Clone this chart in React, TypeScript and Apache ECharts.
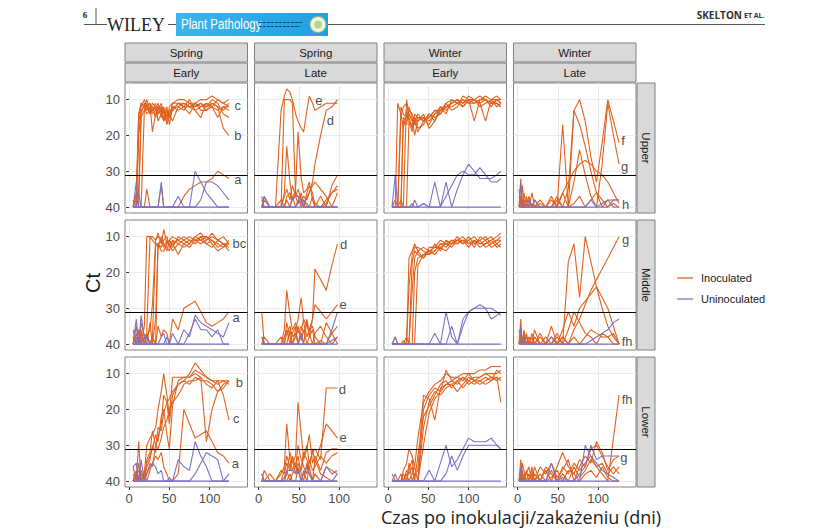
import { useEffect, useRef } from "react";
import * as echarts from "echarts";

// ---- palette & fonts ----
const ORANGE = "#e2611c";
const PURPLE = "#7b72c6";
const SANS = "'Liberation Sans', Arial, sans-serif";

// ---- facet labels & scales ----
const seasons = ["Spring", "Spring", "Winter", "Winter"];
const timings = ["Early", "Late", "Early", "Late"];
const positions = ["Upper", "Middle", "Lower"];
const xTicks = [0, 50, 100];
const yTicks = [10, 20, 30, 40];
const threshold = 31;
const legendItems = ["Inoculated", "Uninoculated"];

// ---- sampling days per season/timing ----
const daysSpringEarly = [5, 9, 12, 15, 19, 22, 26, 29, 33, 36, 40, 43, 47, 50, 54, 61, 68, 75, 82, 89, 96, 103, 110, 117, 124];
const daysSpringLate = [4, 7, 14, 21, 28, 32, 35, 39, 42, 46, 49, 53, 56, 60, 63, 67, 70, 77, 84, 91, 98];
const daysWinterEarly = [5, 9, 12, 16, 19, 23, 26, 30, 33, 37, 44, 51, 58, 65, 72, 79, 86, 93, 100, 107, 114, 121, 128, 135, 140];
const daysWinterLate = [2, 4, 6, 8, 11, 14, 18, 21, 28, 35, 42, 49, 56, 63, 70, 77, 84, 91, 98, 105, 112, 119, 126];

// ---- Upper ----
const upperSpringEarlyInoc = [
  [40, 40, 17, 11, 12, 10, 13, 11, 12, 14, 12, 16, 13, 15, 11, 10, 10, 11, 11, 10, 10, 9, 10, 11, 10],
  [40, 38, 14, 12, 10, 12, 11, 14, 13, 12, 15, 13, 16, 12, 11, 11, 12, 10, 13, 12, 11, 12, 10, 11, 12],
  [40, 40, 40, 14, 11, 13, 12, 12, 15, 13, 11, 14, 12, 17, 12, 12, 13, 11, 12, 11, 13, 11, 12, 13, 11],
  [38, 40, 20, 13, 12, 11, 14, 13, 11, 16, 14, 12, 15, 13, 13, 11, 12, 14, 11, 12, 12, 10, 11, 14, 15],
  [40, 40, 35, 15, 13, 12, 11, 19, 14, 12, 13, 15, 13, 14, 16, 12, 11, 12, 13, 15, 11, 12, 13, 12, 13],
  [40, 40, 40, 40, 13, 12, 14, 12, 13, 11, 14, 16, 14, 15, 13, 11, 11, 12, 12, 11, 12, 11, 12, 18, 20],
  [40, 36, 14, 11, 12, 14, 13, 13, 12, 14, 12, 13, 17, 14, 12, 13, 12, 12, 11, 13, 13, 12, 15, 12, 12],
  [40, 37, 40, 40, 40, 35, 40, 40, 40, 40, 34, 40, 40, 40, 40, 40, 37, 35, 34, 33, 33, 32, 30, 31, 32],
];
const upperSpringEarlyUninoc = [
  [40, 33, 40, 40, 40, 40, 40, 40, 40, 40, 33, 40, 40, 40, 40, 37, 40, 40, 30, 33, 36, 38, 40, 40, 40],
  [40, 40, 40, 40, 40, 40, 40, 40, 40, 40, 40, 40, 40, 40, 40, 40, 40, 40, 40, 38, 33, 33, 34, 36, 38],
  [40, 40, 36, 40, 40, 40, 40, 40, 40, 40, 40, 40, 40, 40, 40, 40, 40, 40, 40, 40, 40, 40, 40, 40, 40],
];
const upperSpringLateInoc = [
  [40, 37, 40, 40, 13, 9, 7, 8, 10, 14, 16, 18, 19, 13, 9, 11, 13, 12, 11, 11, 11],
  [38, 40, 40, 40, 40, 10, 10, 10, 11, 37, 35, 38, 40, 37, 36, 34, 33, 35, 37, 40, 36],
  [40, 40, 40, 40, 40, 40, 38, 40, 37, 40, 39, 38, 37, 38, 36, 33, 28, 20, 13, 12, 10],
  [40, 40, 40, 40, 40, 36, 23, 33, 38, 36, 37, 40, 38, 40, 40, 37, 39, 40, 38, 36, 34],
  [40, 40, 40, 40, 38, 40, 37, 36, 38, 35, 19, 32, 36, 35, 33, 38, 40, 37, 40, 34, 31],
  [40, 38, 40, 40, 40, 37, 35, 38, 34, 37, 39, 36, 40, 36, 34, 36, 40, 40, 39, 36, 35],
];
const upperSpringLateUninoc = [
  [37, 40, 40, 40, 40, 40, 40, 40, 38, 37, 37, 38, 40, 40, 40, 40, 40, 40, 40, 40, 40],
  [40, 37, 40, 40, 40, 40, 40, 40, 40, 40, 38, 39, 38, 39, 40, 40, 40, 40, 40, 40, 40],
  [40, 40, 40, 40, 40, 40, 40, 40, 40, 40, 40, 40, 40, 40, 40, 40, 40, 40, 40, 40, 40],
];
const upperWinterEarlyInoc = [
  [40, 40, 11, 14, 18, 13, 16, 17, 15, 16, 15, 17, 14, 13, 12, 11, 10, 11, 10, 10, 9, 10, 11, 10, 10],
  [40, 40, 40, 15, 12, 11, 15, 18, 14, 15, 16, 14, 15, 14, 11, 13, 12, 9, 10, 11, 10, 9, 10, 10, 11],
  [40, 40, 40, 40, 16, 17, 12, 15, 20, 16, 14, 18, 16, 12, 14, 10, 11, 12, 10, 16, 10, 10, 11, 11, 12],
  [40, 40, 40, 38, 40, 10, 14, 16, 15, 18, 17, 14, 16, 13, 12, 11, 10, 11, 9, 10, 11, 16, 10, 9, 10],
  [40, 38, 40, 40, 40, 40, 16, 19, 16, 14, 16, 15, 13, 14, 12, 12, 11, 10, 11, 10, 11, 10, 11, 11, 12],
  [40, 40, 40, 40, 15, 16, 14, 16, 17, 15, 15, 16, 14, 12, 13, 11, 10, 12, 10, 10, 12, 11, 10, 12, 11],
  [40, 40, 40, 12, 14, 15, 13, 14, 16, 19, 16, 15, 13, 13, 11, 10, 11, 10, 11, 11, 10, 10, 12, 10, 11],
];
const upperWinterEarlyUninoc = [
  [40, 31, 40, 40, 40, 40, 40, 40, 38, 40, 39, 40, 33, 40, 33, 40, 35, 31, 28, 30, 32, 32, 32, 31, 30],
  [40, 40, 40, 40, 40, 40, 40, 40, 40, 40, 40, 40, 40, 40, 37, 34, 31, 30, 31, 31, 29, 31, 33, 33, 32],
  [40, 40, 40, 40, 40, 40, 40, 39, 40, 40, 39, 40, 40, 40, 40, 40, 40, 40, 40, 40, 40, 40, 40, 40, 40],
];
const upperWinterLateInoc = [
  [35, 40, 38, 40, 37, 40, 40, 38, 40, 40, 40, 40, 36, 40, 13, 10, 16, 26, 33, 22, 10, 16, 22],
  [40, 32, 40, 36, 40, 38, 40, 40, 40, 40, 38, 40, 17, 40, 33, 24, 31, 37, 40, 28, 11, 20, 28],
  [40, 38, 34, 40, 40, 37, 40, 40, 40, 40, 40, 38, 40, 35, 13, 17, 23, 30, 36, 40, 38, 40, 40],
  [40, 37, 40, 38, 40, 40, 39, 40, 38, 40, 37, 40, 36, 33, 30, 28, 27, 28, 30, 31, 33, 36, 39],
  [37, 40, 40, 40, 38, 40, 36, 40, 39, 40, 40, 37, 40, 40, 39, 37, 40, 38, 36, 38, 40, 38, 38],
];
const upperWinterLateUninoc = [
  [40, 33, 40, 40, 40, 38, 40, 38, 40, 40, 40, 40, 40, 40, 40, 40, 40, 40, 40, 39, 38, 38, 38],
  [40, 40, 40, 40, 40, 40, 40, 40, 40, 40, 40, 40, 40, 40, 40, 40, 40, 38, 40, 40, 40, 39, 40],
];

// ---- Middle ----
const middleSpringEarlyInoc = [
  [36, 40, 38, 40, 35, 10, 10, 10, 11, 9, 12, 8, 12, 11, 13, 10, 11, 12, 10, 9, 11, 10, 11, 12, 12],
  [40, 37, 40, 34, 38, 37, 10, 11, 12, 13, 10, 12, 14, 11, 12, 11, 10, 11, 12, 10, 12, 11, 13, 12, 13],
  [38, 40, 36, 40, 40, 38, 36, 29, 11, 10, 11, 13, 11, 12, 14, 12, 11, 10, 11, 11, 10, 12, 14, 13, 11],
  [40, 35, 40, 38, 40, 37, 40, 39, 12, 12, 13, 11, 10, 13, 12, 15, 12, 11, 11, 12, 11, 9, 11, 12, 14],
  [40, 40, 40, 37, 40, 40, 34, 40, 33, 12, 11, 12, 13, 14, 11, 12, 13, 12, 10, 11, 12, 13, 11, 10, 12],
  [38, 40, 40, 40, 38, 40, 40, 38, 40, 12, 14, 14, 12, 11, 10, 11, 12, 13, 11, 10, 10, 11, 12, 13, 12],
  [40, 38, 40, 36, 40, 37, 40, 38, 40, 35, 38, 36, 37, 40, 33, 36, 30, 29, 28, 31, 34, 35, 34, 33, 31],
];
const middleSpringEarlyUninoc = [
  [40, 33, 40, 32, 38, 40, 40, 40, 40, 40, 38, 37, 40, 40, 37, 40, 36, 38, 32, 34, 35, 36, 37, 38, 34],
  [40, 40, 36, 40, 40, 38, 40, 40, 40, 40, 40, 40, 38, 40, 40, 40, 40, 37, 33, 36, 36, 38, 36, 40, 40],
  [40, 40, 40, 40, 40, 40, 40, 40, 40, 40, 40, 40, 40, 40, 40, 40, 40, 40, 40, 40, 40, 40, 40, 40, 40],
];
const middleSpringLateInoc = [
  [31, 40, 40, 40, 40, 38, 36, 40, 37, 35, 40, 36, 33, 35, 36, 33, 19, 22, 25, 18, 12],
  [38, 40, 40, 40, 40, 36, 25, 32, 36, 34, 37, 35, 37, 34, 38, 33, 29, 31, 33, 31, 29],
  [40, 40, 40, 40, 40, 40, 34, 38, 40, 36, 33, 27, 34, 38, 36, 35, 38, 40, 34, 37, 35],
  [40, 38, 40, 40, 38, 40, 37, 35, 38, 37, 40, 37, 40, 33, 37, 40, 37, 35, 38, 40, 38],
  [40, 40, 40, 40, 40, 40, 40, 36, 40, 38, 35, 39, 36, 40, 38, 36, 40, 39, 40, 37, 40],
];
const middleSpringLateUninoc = [
  [38, 40, 40, 40, 40, 40, 40, 40, 40, 40, 40, 37, 40, 40, 40, 40, 40, 40, 40, 39, 38],
  [40, 40, 40, 40, 40, 40, 40, 40, 40, 40, 40, 40, 40, 40, 40, 40, 40, 40, 40, 36, 31],
  [40, 40, 40, 40, 40, 40, 40, 40, 40, 40, 40, 40, 40, 40, 40, 40, 40, 40, 40, 40, 40],
];
const middleWinterEarlyInoc = [
  [40, 38, 40, 40, 40, 40, 16, 14, 12, 14, 13, 14, 13, 11, 12, 13, 11, 10, 12, 11, 12, 11, 10, 12, 11],
  [40, 40, 40, 40, 40, 38, 40, 17, 14, 15, 16, 14, 15, 13, 14, 12, 12, 11, 13, 11, 13, 12, 11, 13, 12],
  [40, 40, 40, 40, 40, 40, 40, 40, 20, 16, 15, 15, 14, 12, 13, 11, 11, 12, 10, 12, 11, 10, 12, 11, 10],
  [40, 40, 40, 40, 39, 40, 24, 15, 13, 13, 14, 15, 12, 14, 11, 12, 11, 11, 11, 10, 12, 12, 11, 10, 9],
  [40, 40, 40, 40, 40, 40, 40, 25, 16, 14, 16, 13, 13, 13, 12, 12, 10, 12, 11, 13, 10, 11, 13, 12, 13],
  [40, 40, 40, 40, 40, 40, 40, 40, 40, 18, 15, 14, 14, 12, 12, 11, 12, 11, 12, 12, 11, 13, 12, 11, 11],
];
const middleWinterEarlyUninoc = [
  [40, 38, 40, 40, 40, 40, 40, 40, 40, 40, 40, 40, 37, 40, 31, 38, 40, 33, 31, 30, 29, 30, 30, 31, 32],
  [40, 40, 40, 40, 40, 40, 40, 40, 40, 40, 40, 40, 40, 40, 40, 35, 40, 35, 31, 30, 30, 30, 33, 32, 31],
  [40, 40, 40, 40, 40, 40, 40, 40, 40, 40, 40, 40, 40, 40, 40, 40, 40, 40, 40, 40, 40, 40, 40, 40, 40],
];
const middleWinterLateInoc = [
  [40, 33, 40, 37, 40, 38, 40, 36, 40, 38, 40, 37, 40, 17, 12, 27, 10, 17, 24, 30, 35, 38, 40],
  [36, 40, 38, 40, 37, 40, 38, 40, 38, 40, 35, 40, 38, 40, 36, 33, 29, 25, 22, 19, 16, 13, 10],
  [40, 37, 40, 38, 40, 40, 37, 40, 37, 40, 38, 40, 36, 31, 35, 30, 28, 26, 24, 27, 30, 35, 40],
  [38, 40, 40, 40, 38, 40, 40, 38, 40, 40, 40, 38, 40, 36, 31, 34, 37, 38, 40, 37, 38, 40, 40],
  [40, 38, 40, 36, 40, 39, 40, 40, 40, 40, 40, 40, 38, 40, 38, 40, 38, 36, 37, 38, 38, 37, 40],
];
const middleWinterLateUninoc = [
  [40, 35, 40, 40, 40, 40, 40, 40, 40, 40, 38, 40, 40, 40, 40, 40, 40, 39, 38, 37, 36, 34, 33],
  [40, 40, 40, 38, 40, 40, 40, 40, 40, 40, 40, 40, 40, 40, 40, 40, 40, 40, 40, 40, 40, 40, 40],
];

// ---- Lower ----
const lowerSpringEarlyInoc = [
  [36, 40, 29, 40, 38, 30, 28, 27, 25, 20, 15, 10, 16, 22, 11, 11, 11, 11, 9, 10, 11, 12, 12, 12, 13],
  [40, 38, 40, 37, 40, 34, 32, 26, 30, 28, 24, 16, 18, 24, 16, 13, 12, 10, 7, 9, 11, 12, 13, 12, 12],
  [40, 40, 35, 40, 37, 35, 33, 31, 27, 29, 22, 20, 27, 31, 19, 12, 11, 11, 10, 11, 13, 14, 12, 16, 23],
  [38, 40, 40, 38, 40, 36, 34, 30, 32, 25, 26, 21, 18, 17, 15, 13, 12, 13, 11, 12, 12, 13, 15, 14, 12],
  [40, 39, 40, 40, 38, 40, 37, 35, 33, 34, 32, 36, 38, 40, 40, 38, 20, 24, 28, 27, 26, 29, 32, 33, 35],
  [40, 37, 40, 40, 40, 38, 35, 36, 30, 31, 28, 25, 23, 20, 18, 16, 13, 12, 12, 11, 29, 20, 15, 13, 12],
];
const lowerSpringEarlyUninoc = [
  [36, 35, 40, 34, 40, 38, 36, 35, 36, 38, 37, 40, 40, 39, 40, 34, 36, 37, 29, 33, 36, 40, 40, 40, 38],
  [40, 38, 37, 40, 40, 40, 40, 40, 40, 40, 40, 40, 40, 40, 40, 40, 40, 40, 38, 35, 32, 33, 34, 40, 40],
  [40, 40, 40, 40, 40, 40, 40, 40, 40, 40, 40, 40, 40, 40, 40, 40, 40, 40, 40, 40, 40, 40, 40, 40, 40],
];
const lowerSpringLateInoc = [
  [38, 40, 40, 40, 40, 37, 33, 36, 34, 38, 35, 37, 33, 30, 35, 32, 31, 34, 14, 14, 14],
  [40, 37, 40, 40, 38, 36, 24, 34, 37, 35, 38, 36, 32, 34, 37, 31, 35, 30, 24, 26, 28],
  [40, 40, 38, 40, 40, 40, 38, 32, 35, 33, 18, 27, 34, 31, 27, 35, 33, 37, 32, 31, 31],
  [40, 40, 40, 40, 37, 38, 35, 37, 33, 36, 30, 34, 36, 38, 34, 37, 36, 33, 35, 33, 32],
  [40, 40, 40, 40, 40, 39, 37, 40, 38, 36, 33, 38, 40, 35, 38, 40, 38, 40, 36, 38, 37],
  [40, 40, 40, 40, 40, 40, 40, 38, 40, 40, 36, 40, 37, 40, 36, 40, 34, 38, 39, 40, 40],
];
const lowerSpringLateUninoc = [
  [40, 40, 40, 40, 40, 40, 37, 37, 37, 38, 37, 40, 38, 36, 38, 40, 40, 40, 36, 37, 38],
  [38, 40, 40, 40, 40, 40, 40, 40, 40, 40, 40, 40, 40, 40, 40, 40, 40, 40, 40, 40, 38],
  [40, 40, 40, 40, 40, 40, 40, 40, 40, 40, 40, 40, 40, 40, 40, 40, 40, 40, 40, 40, 40],
];
const lowerWinterEarlyInoc = [
  [38, 40, 40, 40, 37, 35, 31, 33, 36, 28, 18, 15, 13, 12, 10, 11, 11, 10, 10, 10, 9, 9, 8, 8, 8],
  [40, 40, 40, 38, 40, 37, 38, 36, 40, 40, 20, 16, 14, 15, 9, 12, 13, 11, 12, 11, 11, 10, 10, 10, 9],
  [40, 40, 40, 40, 40, 40, 35, 40, 38, 37, 16, 17, 23, 14, 13, 12, 11, 12, 10, 12, 11, 10, 11, 11, 18],
  [40, 40, 40, 40, 38, 40, 37, 34, 40, 33, 22, 19, 16, 13, 12, 14, 12, 11, 13, 12, 12, 11, 12, 9, 10],
  [40, 40, 40, 40, 40, 40, 40, 38, 36, 40, 25, 18, 15, 16, 14, 13, 15, 13, 11, 12, 13, 12, 11, 12, 11],
  [40, 40, 40, 40, 40, 38, 40, 40, 40, 40, 30, 21, 17, 15, 13, 13, 12, 14, 12, 13, 12, 13, 12, 11, 12],
];
const lowerWinterEarlyUninoc = [
  [40, 38, 40, 40, 40, 40, 40, 40, 40, 40, 40, 37, 40, 35, 30, 36, 34, 31, 28, 29, 29, 29, 28, 30, 31],
  [40, 40, 40, 40, 40, 40, 40, 40, 40, 40, 40, 40, 40, 40, 38, 33, 37, 33, 30, 30, 30, 30, 30, 30, 31],
  [40, 40, 40, 40, 40, 40, 40, 40, 40, 40, 40, 40, 40, 40, 40, 40, 40, 40, 40, 40, 40, 40, 40, 40, 40],
];
const lowerWinterLateInoc = [
  [40, 34, 38, 40, 37, 40, 36, 40, 38, 40, 37, 40, 36, 38, 35, 37, 35, 33, 36, 38, 40, 28, 16],
  [38, 40, 35, 37, 40, 38, 40, 36, 40, 37, 40, 36, 32, 36, 38, 34, 36, 31, 30, 33, 36, 38, 36],
  [40, 36, 40, 38, 40, 40, 38, 40, 36, 38, 35, 39, 37, 34, 40, 36, 33, 35, 29, 32, 37, 34, 33],
  [40, 40, 37, 40, 38, 36, 40, 38, 40, 36, 38, 40, 38, 40, 36, 39, 37, 34, 36, 35, 38, 36, 38],
  [40, 38, 40, 40, 40, 40, 37, 40, 40, 40, 39, 37, 40, 37, 38, 40, 38, 37, 39, 36, 39, 40, 40],
];
const lowerWinterLateUninoc = [
  [40, 36, 40, 40, 40, 40, 40, 40, 40, 40, 35, 40, 39, 40, 40, 40, 30, 33, 35, 37, 38, 39, 40],
  [40, 40, 40, 40, 40, 40, 40, 40, 40, 40, 40, 40, 40, 40, 40, 38, 36, 30, 34, 33, 33, 33, 33],
  [40, 40, 40, 40, 40, 40, 40, 40, 40, 40, 40, 40, 40, 40, 40, 40, 40, 40, 40, 40, 40, 40, 40],
];

// ---- significance letters: [day, Ct, text] ----
const upperSpringEarlyLetters: [number, number, string][] = [[135, 11.6, "c"], [135, 20, "b"], [135, 32.3, "a"]];
const upperSpringLateLetters: [number, number, string][] = [[75, 10.2, "e"], [89, 15.8, "d"]];
const upperWinterLateLetters: [number, number, string][] = [[131, 21.3, "f"], [133, 28.6, "g"], [134, 39.2, "h"]];
const middleSpringEarlyLetters: [number, number, string][] = [[137, 11.9, "bc"], [133, 32.5, "a"]];
const middleSpringLateLetters: [number, number, string][] = [[105.6, 12.1, "d"], [105, 28.9, "e"]];
const middleWinterLateLetters: [number, number, string][] = [[134, 10.7, "g"], [136, 39.3, "fh"]];
const lowerSpringEarlyLetters: [number, number, string][] = [[137, 12.6, "b"], [133, 22.4, "c"], [132, 35, "a"]];
const lowerSpringLateLetters: [number, number, string][] = [[104, 14.3, "d"], [105, 27.7, "e"]];
const lowerWinterLateLetters: [number, number, string][] = [[136, 17.1, "fh"], [132, 33.5, "g"]];

type Panel = { days: number[]; inoc: number[][]; uninoc: number[][]; letters: [number, number, string][] };

const panels: Panel[][] = [
  [
    { days: daysSpringEarly, inoc: upperSpringEarlyInoc, uninoc: upperSpringEarlyUninoc, letters: upperSpringEarlyLetters },
    { days: daysSpringLate, inoc: upperSpringLateInoc, uninoc: upperSpringLateUninoc, letters: upperSpringLateLetters },
    { days: daysWinterEarly, inoc: upperWinterEarlyInoc, uninoc: upperWinterEarlyUninoc, letters: [] },
    { days: daysWinterLate, inoc: upperWinterLateInoc, uninoc: upperWinterLateUninoc, letters: upperWinterLateLetters },
  ],
  [
    { days: daysSpringEarly, inoc: middleSpringEarlyInoc, uninoc: middleSpringEarlyUninoc, letters: middleSpringEarlyLetters },
    { days: daysSpringLate, inoc: middleSpringLateInoc, uninoc: middleSpringLateUninoc, letters: middleSpringLateLetters },
    { days: daysWinterEarly, inoc: middleWinterEarlyInoc, uninoc: middleWinterEarlyUninoc, letters: [] },
    { days: daysWinterLate, inoc: middleWinterLateInoc, uninoc: middleWinterLateUninoc, letters: middleWinterLateLetters },
  ],
  [
    { days: daysSpringEarly, inoc: lowerSpringEarlyInoc, uninoc: lowerSpringEarlyUninoc, letters: lowerSpringEarlyLetters },
    { days: daysSpringLate, inoc: lowerSpringLateInoc, uninoc: lowerSpringLateUninoc, letters: lowerSpringLateLetters },
    { days: daysWinterEarly, inoc: lowerWinterEarlyInoc, uninoc: lowerWinterEarlyUninoc, letters: [] },
    { days: daysWinterLate, inoc: lowerWinterLateInoc, uninoc: lowerWinterLateUninoc, letters: lowerWinterLateLetters },
  ],
];

// ---- facet layout (px) ----
const COL_LEFT = [125, 254.5, 384, 513.5];
const COL_W = 122.5;
const ROW_TOP = [83, 220, 357];
const ROW_H = 130;
const X_MIN = -5;
const X_MAX = 147;
const Y_MIN = 5.35;
const Y_MAX = 41.65;

function buildOption() {
  const grid: any[] = [];
  const xAxis: any[] = [];
  const yAxis: any[] = [];
  const series: any[] = [];
  const graphic: any[] = [];

  panels.forEach((row, r) => {
    row.forEach((p, c) => {
      const idx = r * 4 + c;
      grid.push({
        left: COL_LEFT[c], top: ROW_TOP[r], width: COL_W, height: ROW_H,
        show: true, backgroundColor: "#ffffff", borderColor: "#808080", borderWidth: 1,
        containLabel: false,
      });
      const bottomRow = r === 2;
      const firstCol = c === 0;
      xAxis.push({
        gridIndex: idx, type: "value", min: X_MIN, max: X_MAX,
        axisLine: { show: false },
        axisTick: { show: bottomRow, length: 3, lineStyle: { color: "#333" }, customValues: xTicks },
        axisLabel: { show: bottomRow, customValues: xTicks, color: "#4d4d4d", fontSize: 13, margin: 5, fontFamily: SANS },
        splitLine: { show: true, lineStyle: { color: "#ebebeb", width: 1 } },
      });
      yAxis.push({
        gridIndex: idx, type: "value", min: Y_MIN, max: Y_MAX, inverse: true,
        axisLine: { show: false },
        axisTick: { show: firstCol, length: 3, lineStyle: { color: "#333" }, customValues: yTicks },
        axisLabel: { show: firstCol, customValues: yTicks, color: "#4d4d4d", fontSize: 13, margin: 5, fontFamily: SANS },
        splitLine: { show: true, lineStyle: { color: "#ebebeb", width: 1 } },
      });

      const addLines = (rows: number[][], name: string, color: string, z: number) => {
        rows.forEach((vals) => {
          series.push({
            type: "line", name, xAxisIndex: idx, yAxisIndex: idx,
            data: p.days.map((d, i) => [d, vals[i]]).filter((pt) => pt[1] != null),
            symbol: "none", showSymbol: false, silent: true, z,
            lineStyle: { color, width: 1.1 }, itemStyle: { color },
          });
        });
      };
      addLines(p.inoc, legendItems[0], ORANGE, 2);
      addLines(p.uninoc, legendItems[1], PURPLE, 3);

      // letters plus the Ct detection threshold
      series.push({
        type: "scatter", name: "letters", xAxisIndex: idx, yAxisIndex: idx,
        data: p.letters.map((l) => [l[0], l[1], l[2]]),
        symbolSize: 0, silent: true, z: 5,
        itemStyle: { color: "rgba(0,0,0,0)" },
        label: {
          show: true, position: "inside", formatter: (v: any) => v.data[2],
          color: "#1a1a1a", fontSize: 13, fontFamily: SANS,
          textBorderWidth: 0, textBorderColor: "transparent",
        },
        markLine: {
          silent: true, symbol: "none", label: { show: false },
          lineStyle: { color: "#000", width: 1, type: "solid" },
          data: [{ yAxis: threshold }],
        },
      });
    });
  });

  // column strips (season / timing)
  COL_LEFT.forEach((x, c) => {
    [seasons[c], timings[c]].forEach((t, k) => {
      const y = 43 + k * 20;
      graphic.push({
        type: "rect", shape: { x, y, width: COL_W, height: 19 },
        style: { fill: "#d9d9d9", stroke: "#808080", lineWidth: 1 },
      });
      graphic.push({
        type: "text", x: x + COL_W / 2, y: y + 10,
        style: { text: t, fill: "#1a1a1a", fontSize: 11.5, fontFamily: SANS, align: "center", verticalAlign: "middle" },
      });
    });
  });

  // row strips (canopy position)
  ROW_TOP.forEach((y, r) => {
    graphic.push({
      type: "rect", shape: { x: 637, y, width: 18, height: ROW_H },
      style: { fill: "#d9d9d9", stroke: "#808080", lineWidth: 1 },
    });
    graphic.push({
      type: "text", x: 646, y: y + ROW_H / 2, rotation: -Math.PI / 2,
      style: { text: positions[r], fill: "#1a1a1a", fontSize: 11.5, fontFamily: SANS, align: "center", verticalAlign: "middle" },
    });
  });

  // axis titles
  graphic.push({
    type: "text", x: 93, y: 283, rotation: Math.PI / 2,
    style: { text: "Ct", fill: "#1a1a1a", fontSize: 20, fontFamily: SANS, align: "center", verticalAlign: "middle" },
  });
  graphic.push({
    type: "text", x: 521, y: 517,
    style: { text: "Czas po inokulacji/zakażeniu (dni)", fill: "#222", fontSize: 18, fontFamily: "'Open Sans', 'Noto Sans', sans-serif", align: "center", verticalAlign: "middle" },
  });

  // legend
  [ORANGE, PURPLE].forEach((col, i) => {
    const y = 278 + i * 21;
    graphic.push({ type: "line", shape: { x1: 677, y1: y, x2: 693, y2: y }, style: { stroke: col, lineWidth: 1.3 } });
    graphic.push({
      type: "text", x: 701, y,
      style: { text: legendItems[i], fill: "#1a1a1a", fontSize: 11, fontFamily: SANS, verticalAlign: "middle" },
    });
  });

  // running header
  graphic.push({
    type: "text", x: 85, y: 15,
    style: { text: "6", fill: "#222", fontSize: 9, fontWeight: "bold", fontFamily: "'Liberation Serif', serif", align: "center", verticalAlign: "middle" },
  });
  graphic.push({ type: "line", shape: { x1: 96, y1: 8, x2: 96, y2: 24.5 }, style: { stroke: "#555", lineWidth: 1 } });
  graphic.push({ type: "line", shape: { x1: 84, y1: 24.5, x2: 107, y2: 24.5 }, style: { stroke: "#555", lineWidth: 1 } });
  graphic.push({
    type: "text", x: 107, y: 25,
    style: { text: "WILEY", fill: "#222", fontSize: 18, fontFamily: "'Liberation Serif', serif", verticalAlign: "middle" },
  });
  graphic.push({ type: "line", shape: { x1: 168, y1: 24.5, x2: 176, y2: 24.5 }, style: { stroke: "#555", lineWidth: 1 } });
  graphic.push({
    type: "rect", shape: { x: 176, y: 13, width: 152, height: 23 },
    style: {
      fill: new echarts.graphic.LinearGradient(0, 0, 1, 0, [
        { offset: 0, color: "#3eb3ee" }, { offset: 1, color: "#239fe0" },
      ]),
    },
  });
  graphic.push({
    type: "text", x: 181, y: 24.5, scaleX: 0.82,
    style: { text: "Plant Pathology", fill: "#ffffff", fontSize: 14, fontFamily: SANS, verticalAlign: "middle" },
  });
  [[259, 22.5, 302], [259, 26.5, 300]].forEach(([x1, y, x2]) => {
    graphic.push({ type: "line", shape: { x1, y1: y, x2, y2: y }, style: { stroke: "#1d3b70", lineWidth: 1, lineDash: [3, 1] } });
  });
  graphic.push({ type: "circle", shape: { cx: 318, cy: 24.5, r: 8 }, style: { fill: "#edf5e1", stroke: "#8db26a", lineWidth: 1 } });
  graphic.push({ type: "circle", shape: { cx: 318, cy: 24.5, r: 4 }, style: { fill: "#b7d38c" } });
  graphic.push({ type: "line", shape: { x1: 328, y1: 24.5, x2: 765, y2: 24.5 }, style: { stroke: "#555", lineWidth: 1 } });
  graphic.push({
    type: "text", x: 742, y: 15,
    style: { text: "SKELTON", fill: "#333", fontSize: 10, fontWeight: "bold", fontFamily: "'Open Sans', sans-serif", align: "right", verticalAlign: "middle" },
  });
  graphic.push({
    type: "text", x: 744, y: 15.5,
    style: { text: "ET AL.", fill: "#333", fontSize: 7, fontWeight: "bold", fontFamily: "'Open Sans', sans-serif", verticalAlign: "middle" },
  });

  return {
    animation: false,
    backgroundColor: "#ffffff",
    grid, xAxis, yAxis, series, graphic,
  };
}

export default function App() {
  const ref = useRef<HTMLDivElement | null>(null);
  useEffect(() => {
    if (!ref.current) return;
    const chart = echarts.init(ref.current, undefined, { renderer: "svg" });
    chart.setOption(buildOption() as any);
    return () => chart.dispose();
  }, []);
  return (
    <div
      ref={ref}
      style={{ position: "fixed", left: 0, top: 0, width: 820, height: 529, background: "#fff" }}
    />
  );
}
